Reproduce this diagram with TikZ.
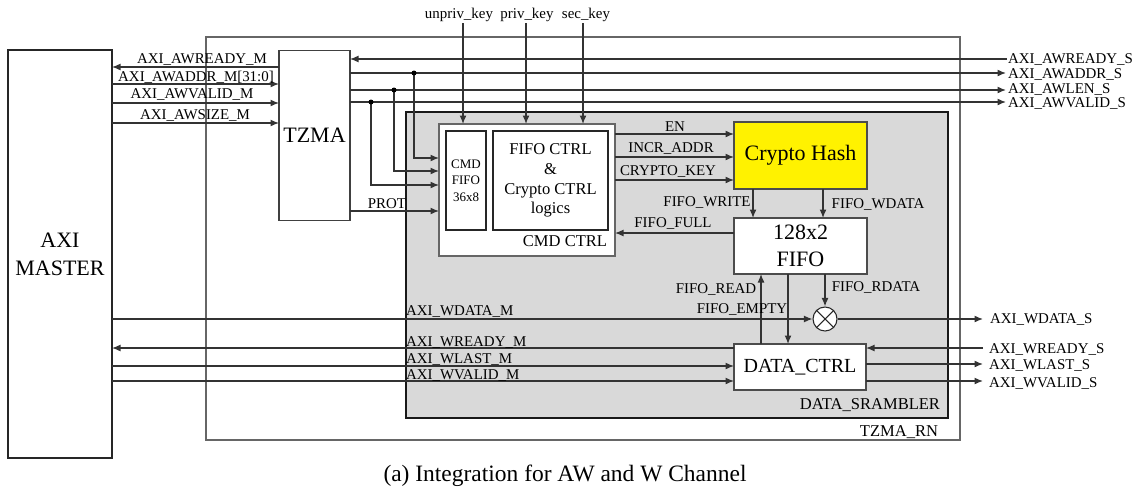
\documentclass[tikz,border=0pt]{standalone}
\usepackage{fontspec}
\setmainfont{Liberation Serif}
\usetikzlibrary{arrows.meta,calc}
\begin{document}
\begin{tikzpicture}[x=0.75pt,y=-0.75pt,
  sz/.style 2 args={minimum width=#1*0.75pt, minimum height=#2*0.75pt},
  box/.style={draw=black!75, line width=0.8pt, inner sep=0pt, outer sep=0pt, align=center},
  ln/.style={draw=black!80, line width=1pt},
  arr/.style={ln, -{Latex[length=8.5*0.75pt,width=7*0.75pt]}},
  lbl/.style={inner sep=0pt, outer sep=0pt, font=\fontsize{11.2}{12}\selectfont},
  big/.style={font=\fontsize{16.5}{21}\selectfont},
  mid/.style={font=\fontsize{12.4}{14.8}\selectfont},
  tapdot/.style={circle, fill=black, inner sep=0pt, minimum size=5*0.75pt}
]
\useasboundingbox (0,0) rectangle (1144,500);

% background containers
\node[box, sz={754}{403}, draw=black!60, fill=white] (rn) at (583,238.5) {};
\node[box, sz={542}{306}, draw=black!90, fill=black!15] (ds) at (677,265) {};
\node[box, sz={104}{408}, draw=black!85, big] (master) at (60,254) {AXI\\MASTER};

% blocks
\node[box, sz={71}{170}, fill=white, big] (tzma) at (314.5,135.5) {TZMA};
\node[box, sz={176}{132}, fill=white, draw=black!60] (cmd) at (527,190) {};
\node[box, sz={40}{99}, fill=white, draw=black!85, font=\fontsize{9.75}{12.4}\selectfont] (cfifo) at (466,180.5) {CMD\\FIFO\\36x8};
\node[box, sz={115}{99}, fill=white, draw=black!85, font=\fontsize{12.4}{14.8}\selectfont] (fctrl) at (550.5,180.5) {FIFO CTRL\\\&\\Crypto CTRL\\logics};
\node[box, sz={133}{67}, fill=yellow, draw=black!70, big] (hash) at (800.5,155.5) {Crypto Hash};
\node[box, sz={133}{56}, fill=white, draw=black!70, font=\fontsize{16.5}{20.25}\selectfont] (fifo) at (800.5,246) {128x2\\FIFO};
\node[box, sz={132}{46}, fill=white, draw=black!70, font=\fontsize{15}{18}\selectfont] (dctrl) at (800,367) {DATA\_CTRL};
\node[circle, draw=black!85, line width=0.8pt, fill=white, inner sep=0pt, minimum size=24*0.75pt] (xor) at (825,319) {};
\draw[black!85, line width=0.8pt] (xor.45) -- (xor.225) (xor.135) -- (xor.315);

% container labels
\node[lbl, mid, anchor=base east] (cmdl) at (607,246) {CMD CTRL};
\node[lbl, mid, anchor=base east] (dsl) at (940,409) {DATA\_SRAMBLER};
\node[lbl, mid, anchor=base east] (rnl) at (938,436) {TZMA\_RN};

% AW channel, master side
\draw[arr] (tzma.west |- 0,67) -- (master.east |- 0,67);
\draw[arr] (master.east |- 0,84) -- (tzma.west |- 0,84);
\draw[arr] (master.east |- 0,103) -- (tzma.west |- 0,103);
\draw[arr] (master.east |- 0,123) -- (tzma.west |- 0,123);
\node[lbl, anchor=base] (awreadym) at (202,63) {AXI\_AWREADY\_M};
\node[lbl, anchor=base] (awaddrm) at (196,81) {AXI\_AWADDR\_M[31:0]};
\node[lbl, anchor=base] (awvalidm) at (192,98) {AXI\_AWVALID\_M};
\node[lbl, anchor=base] (awsizem) at (195,119) {AXI\_AWSIZE\_M};

% AW channel, slave side
\node[lbl, anchor=base west] (awreadys) at (1008,63) {AXI\_AWREADY\_S};
\node[lbl, anchor=base west] (awaddrs) at (1008,78) {AXI\_AWADDR\_S};
\node[lbl, anchor=base west] (awlens) at (1008,93) {AXI\_AWLEN\_S};
\node[lbl, anchor=base west] (awvalids) at (1008,107) {AXI\_AWVALID\_S};
\coordinate (pRdy) at (1007,59);
\coordinate (pAddr) at (1006,73);
\coordinate (pLen) at (1006,90);
\coordinate (pVal) at (1006,102);
\draw[arr] (pRdy) -- (tzma.east |- pRdy);
\draw[arr] (tzma.east |- pAddr) -- (pAddr);
\draw[arr] (tzma.east |- pLen) -- (pLen);
\draw[arr] (tzma.east |- pVal) -- (pVal);

% taps into CMD CTRL
\coordinate (tA) at (414,73);
\coordinate (tB) at (394,90);
\coordinate (tC) at (371,102);
\draw[arr] (tA) |- (cmd.west |- 0,158);
\draw[arr] (tB) |- (cmd.west |- 0,171);
\draw[arr] (tC) |- (cmd.west |- 0,185);
\node[tapdot] at (tA) {};
\node[tapdot] at (tB) {};
\node[tapdot] at (tC) {};
\draw[arr] (tzma.east |- 0,211) -- (cmd.west |- 0,211);
\node[lbl, anchor=base] (prot) at (387,208) {PROT};

% keys
\node[lbl, anchor=base] (kul) at (459,18) {unpriv\_key};
\node[lbl, anchor=base] (kpl) at (527,18) {priv\_key};
\node[lbl, anchor=base] (ksl) at (586,18) {sec\_key};
\coordinate (kU) at (463,23);
\coordinate (kP) at (526,23);
\coordinate (kS) at (583,23);
\draw[arr] (kU) -- (kU |- cmd.north);
\draw[arr] (kP) -- (kP |- cmd.north);
\draw[arr] (kS) -- (kS |- cmd.north);

% CMD CTRL -> Crypto Hash
\draw[arr] (cmd.east |- 0,134) -- (hash.west |- 0,134);
\draw[arr] (cmd.east |- 0,157) -- (hash.west |- 0,157);
\draw[arr] (cmd.east |- 0,180) -- (hash.west |- 0,180);
\node[lbl, anchor=base] (en) at (675,131) {EN};
\node[lbl, anchor=base] (incr) at (671,152) {INCR\_ADDR};
\node[lbl, anchor=base] (ckey) at (668,175) {CRYPTO\_KEY};

% Crypto Hash -> FIFO
\draw[arr] (hash.south -| 753,0) -- (fifo.north -| 753,0);
\draw[arr] (hash.south -| 823,0) -- (fifo.north -| 823,0);
\node[lbl, anchor=base] (fw) at (707,206) {FIFO\_WRITE};
\node[lbl, anchor=base] (fwd) at (878,208) {FIFO\_WDATA};
\draw[arr] (fifo.west |- 0,233) -- (cmd.east |- 0,233);
\node[lbl, anchor=base] (ff) at (673,227) {FIFO\_FULL};

% FIFO <-> DATA_CTRL / XOR
\draw[arr] (dctrl.north -| 761,0) -- (fifo.south -| 761,0);
\draw[arr] (fifo.south -| 788,0) -- (dctrl.north -| 788,0);
\draw[arr] (fifo.south -| xor.north) -- (xor.north);
\node[lbl, anchor=base] (fr) at (716,293) {FIFO\_READ};
\node[lbl, anchor=base] (fe) at (742,313) {FIFO\_EMPTY};
\node[lbl, anchor=base] (frd) at (876,291) {FIFO\_RDATA};

% W channel, master side
\draw[arr] (master.east |- xor.west) -- (xor.west);
\draw[arr] (dctrl.west |- 0,348) -- (master.east |- 0,348);
\draw[arr] (master.east |- 0,366) -- (dctrl.west |- 0,366);
\draw[arr] (master.east |- 0,381) -- (dctrl.west |- 0,381);
\node[lbl, anchor=base west] (wdatam) at (406,315) {AXI\_WDATA\_M};
\node[lbl, anchor=base west] (wreadym) at (406,346) {AXI\_WREADY\_M};
\node[lbl, anchor=base west] (wlastm) at (406,363) {AXI\_WLAST\_M};
\node[lbl, anchor=base west] (wvalidm) at (406,379) {AXI\_WVALID\_M};

% W channel, slave side
\node[lbl, anchor=base west] (wdatas) at (990,323) {AXI\_WDATA\_S};
\node[lbl, anchor=base west] (wreadys) at (989,353) {AXI\_WREADY\_S};
\node[lbl, anchor=base west] (wlasts) at (989,369) {AXI\_WLAST\_S};
\node[lbl, anchor=base west] (wvalids) at (989,387) {AXI\_WVALID\_S};
\coordinate (qD) at (983,319);
\coordinate (qR) at (983,348);
\coordinate (qL) at (983,364);
\coordinate (qV) at (983,381);
\draw[arr] (xor.east) -- (qD);
\draw[arr] (qR) -- (dctrl.east |- qR);
\draw[arr] (dctrl.east |- qL) -- (qL);
\draw[arr] (dctrl.east |- qV) -- (qV);

% caption
\node[inner sep=0pt, font=\fontsize{17.6}{20}\selectfont] (cap) at (565,476) {(a) Integration for AW and W Channel};
\end{tikzpicture}
\end{document}
